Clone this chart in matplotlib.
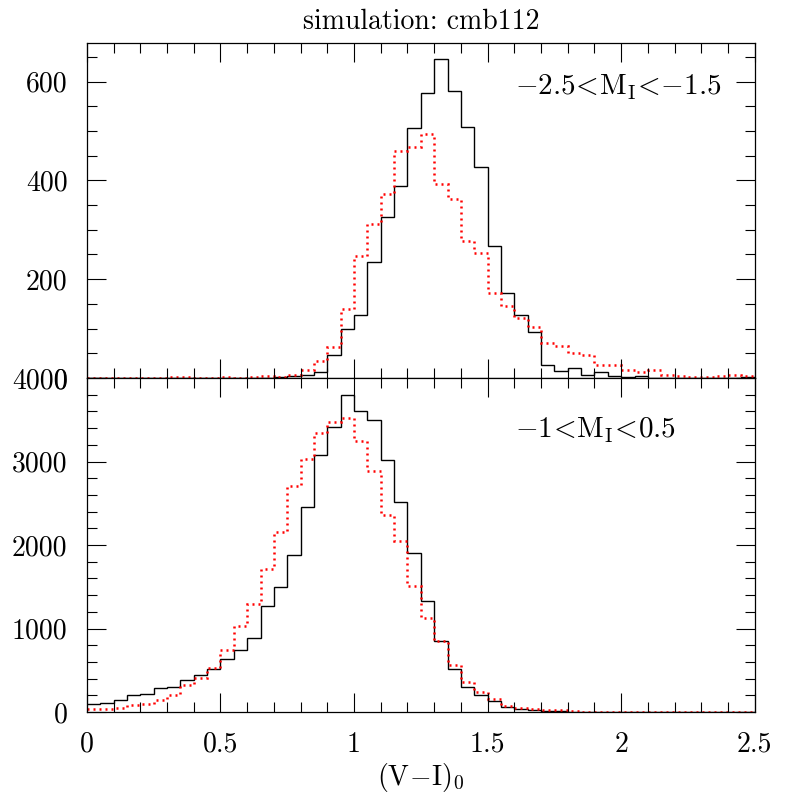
import numpy as np
import matplotlib
matplotlib.use("Agg")
import matplotlib.pyplot as plt
from matplotlib.ticker import MultipleLocator, FuncFormatter

plt.rcParams['font.family'] = ['cmr10', 'DejaVu Serif']
plt.rcParams['mathtext.fontset'] = 'cm'
plt.rcParams['axes.formatter.use_mathtext'] = True

# bin edges of the (V-I)_0 histograms, width 0.05
bin_edges = np.round(np.arange(51) * 0.05, 2)

# -2.5 < M_I < -1.5
top_black = [0, 0, 0, 0, 0, 0, 0, 1, 0, 1,
             1, 1, 1, 1, 2, 4, 6, 13, 47, 100,
             128, 234, 325, 389, 506, 577, 645, 580, 508, 427,
             267, 172, 128, 94, 26, 15, 21, 7, 12, 5,
             3, 4, 1, 1, 1, 1, 1, 1, 1, 3]
top_red = [1, 1, 1, 1, 1, 1, 3, 3, 1, 1,
           2, 1, 3, 5, 3, 6, 17, 34, 62, 139,
           246, 311, 373, 460, 467, 493, 393, 363, 278, 254,
           172, 146, 122, 104, 70, 64, 50, 46, 27, 27,
           16, 13, 16, 7, 5, 3, 3, 5, 6, 4]

# -1 < M_I < 0.5
bot_black = [100, 112, 140, 208, 220, 287, 295, 387, 443, 519,
             634, 738, 881, 1272, 1495, 1886, 2456, 3074, 3417, 3800,
             3608, 3497, 3019, 2512, 1902, 1332, 849, 519, 299, 200,
             128, 60, 40, 20, 8, 8, 5, 4, 3, 3,
             2, 2, 2, 1, 1, 1, 1, 1, 1, 1]
bot_red = [40, 40, 52, 80, 100, 140, 200, 319, 407, 526,
           746, 1025, 1297, 1707, 2161, 2711, 3030, 3341, 3468, 3516,
           3241, 2891, 2361, 2045, 1515, 1129, 845, 567, 359, 239,
           160, 68, 48, 32, 20, 20, 8, 6, 5, 4,
           3, 3, 2, 2, 2, 2, 1, 1, 1, 1]

fig = plt.figure(figsize=(7.97, 7.97), dpi=100)
ax1 = fig.add_axes([0.109, 0.5257, 0.838, 0.4203])
ax2 = fig.add_axes([0.109, 0.1066, 0.838, 0.4191])

fmt = FuncFormatter(lambda v, p: '%g' % v)

for ax, blk, red, ymax, ymaj, ymin in [(ax1, top_black, top_red, 678, 200, 50),
                                       (ax2, bot_black, bot_red, 4000, 1000, 200)]:
    ax.stairs(blk, bin_edges, baseline=None, color='black', lw=1.0)
    ax.stairs(red, bin_edges, baseline=None, color='red', lw=1.8,
              linestyle=(0, (0.8, 1.6)))
    ax.set_xlim(0, 2.5)
    ax.set_ylim(0, ymax)
    ax.xaxis.set_major_locator(MultipleLocator(0.5))
    ax.xaxis.set_minor_locator(MultipleLocator(0.1))
    ax.yaxis.set_major_locator(MultipleLocator(ymaj))
    ax.yaxis.set_minor_locator(MultipleLocator(ymin))
    ax.xaxis.set_major_formatter(fmt)
    ax.yaxis.set_major_formatter(fmt)
    ax.tick_params(which='both', direction='in', top=True, right=True, width=0.8)
    ax.tick_params(which='major', length=14, labelsize=20, pad=14)
    ax.tick_params(which='minor', length=7)
    for s in ax.spines.values():
        s.set_linewidth(0.9)

ax1.tick_params(axis='x', labelbottom=False)

ax1.text(0.641, 0.866, r'${-}2.5\!<\!\mathrm{M_I}\!<\!{-}1.5$', transform=ax1.transAxes,
         ha='left', va='center', fontsize=21)
ax2.text(0.641, 0.844, r'${-}1\!<\!\mathrm{M_I}\!<\!0.5$', transform=ax2.transAxes,
         ha='left', va='center', fontsize=21)

ax1.set_title('simulation: cmb112', fontsize=20, pad=10)
ax2.set_xlabel(r'$(\mathrm{V}\!-\!\mathrm{I})_0$', fontsize=20, labelpad=2)

fig.savefig('out.png', dpi=100)
